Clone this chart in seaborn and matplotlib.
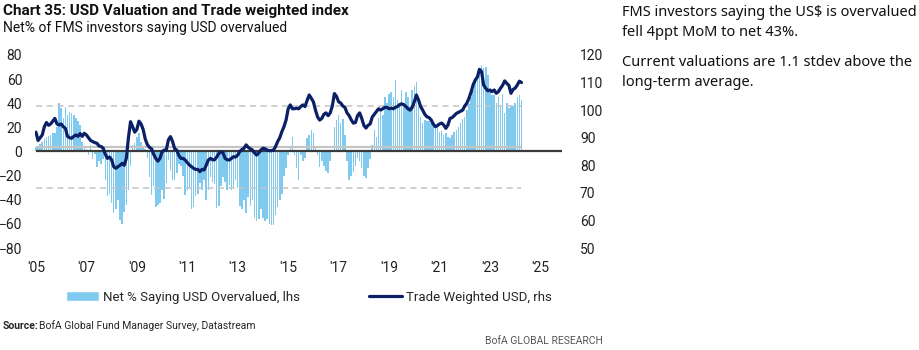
import numpy as np
import pandas as pd
import matplotlib.pyplot as plt
import seaborn as sns
from matplotlib.patches import Patch
from matplotlib.lines import Line2D

sns.set_style('white')
plt.rcParams['font.family'] = ['Roboto', 'DejaVu Sans']

# monthly data, Jan 2005 .. Apr 2024
start_year = 2005

net_overvalued = [
    4, 3, 6, 8, 10, 12, 13, 14, 15, 15, 20, 40,            # 2005
    36, 28, 37, 30, 33, 32, 30, 28, 25, 22, 8, 3,          # 2006
    2, -3, 5, -6, -2, -13, -8, -10, -6, -24, -37, -35,     # 2007
    -43, -51, -48, -40, -57, -60, -50, -44, -32, -12, 5, 7,  # 2008
    12, 15, 8, 4, 2, -5, -21, -36, -29, -46, -44, -43,     # 2009
    -32, -39, -26, -7, -15, -24, -24, -18, -10, -12, -20, -36,  # 2010
    -32, -30, -48, -46, -37, -35, -26, -32, -24, -40, -32, -21,  # 2011
    -25, -27, -47, -45, -29, -21, -25, -32, -28, -32, -30, -24,  # 2012
    -30, -45, -48, -40, -51, -38, -45, -40, -55, -58, -56, -48,  # 2013
    -55, -58, -56, -60, -61, -61, -53, -46, -40, -35, -20, -14,  # 2014
    -3, 4, 12, -3, -14, -24, -3, -8, -5, 11, 14, 18,       # 2015
    15, 4, -3, -13, -8, -12, -16, -18, -8, 0, 20, 26,      # 2016
    30, 24, 27, 14, -8, -24, -20, -17, -12, -5, -8, -14,   # 2017
    -20, -22, -14, -6, 5, 18, 12, 28, 33, 30, 45, 40,      # 2018
    48, 49, 45, 59, 43, 40, 51, 37, 49, 45, 38, 51,        # 2019
    54, 58, 38, 29, 24, 26, 25, 25, 24, 22, 20, 22,        # 2020
    16, 17, 14, 15, 12, 11, 14, 16, 18, 20, 24, 27,        # 2021
    29, 34, 39, 45, 51, 58, 62, 65, 72, 69, 70, 63,        # 2022
    49, 47, 47, 40, 45, 38, 48, 32, 40, 36, 38, 38,        # 2023
    40, 45, 47, 43,                                        # 2024
]

trade_weighted_usd = [
    92, 89, 90, 91, 94, 95.5, 94.5, 95, 96, 97, 95, 94.6,
    95, 94, 93.4, 90.5, 90, 89.8, 90.5, 91, 90.5, 91.5, 90.5, 91.6,
    91, 90, 89, 88.6, 88.2, 88, 87, 86.8, 86.2, 84, 82.5, 83,
    82, 79.5, 78.9, 79.5, 80, 80.7, 80, 82.5, 90, 95.8, 94, 92,
    93, 96, 95, 93, 89.5, 87.5, 86.5, 86, 84, 82.5, 81.5, 82.5,
    84.9, 85.5, 85.5, 89.2, 90.4, 88.6, 86, 85.5, 83.5, 82.5, 82.5, 81.9,
    81, 80.1, 79.5, 78.9, 78.5, 78.5, 77.7, 78.5, 78.3, 80, 81.9, 82.5,
    82, 82, 83, 84.3, 84.9, 84.5, 82.5, 82, 81.9, 82.5, 83.1, 83,
    83.7, 85, 85.7, 86.2, 87.4, 86.5, 86, 85.5, 84.5, 83.7, 84.5, 85.5,
    86.2, 86, 85.5, 85.3, 85.3, 85.5, 86.8, 88.6, 90, 92.2, 94, 96.4,
    100.5, 101.9, 100.5, 100.5, 100.7, 100.5, 101.3, 101.9, 101.3, 103.5, 105.5, 104.3,
    103, 100, 97.5, 96.4, 97, 98.5, 99, 98, 99, 101.5, 106, 105,
    103, 102.6, 101.5, 101, 99, 98, 96.5, 95.3, 95.5, 98, 99, 97,
    94.5, 93.5, 94.5, 95, 97.5, 98.5, 99.5, 100.5, 100, 100.5, 101, 101,
    100.5, 100.7, 100.5, 101, 101.3, 102, 102.3, 102, 101.3, 100.5, 100, 101,
    103, 105.5, 103.7, 101.3, 100, 98.5, 97.6, 97.3, 96.5, 95, 94, 94.4,
    95, 95.3, 94.6, 93.4, 94.6, 97, 97.3, 98, 98.8, 99.2, 99.6, 100,
    101.5, 102.5, 104.3, 106.5, 109.2, 110.9, 112, 114.8, 114, 109.1, 107.9, 107,
    107.3, 106.7, 107.3, 106.1, 106.7, 107.9, 109, 110.6, 109.7, 109, 106.1, 107.5,
    108, 109.1, 110.5, 110,
]

mean_level = 3.5
band_levels = [38, -30]

year_ticks = list(range(2005, 2026, 2))
year_labels = ["'05", "'07", "'09", "'11", "'13", "'15", "'17", "'19", "'21", "'23", "'25"]

bar_color = '#7fcaee'
line_color = '#0b1f66'

df = pd.DataFrame({
    'date': start_year + np.arange(len(net_overvalued)) / 12,
    'net': net_overvalued,
    'twi': trade_weighted_usd,
})
last_date = df['date'].max()

fig = plt.figure(figsize=(9.2, 3.5), dpi=100)
ax = fig.add_axes([0.0377, 0.2914, 0.573, 0.5515])

sns.barplot(data=df, x='date', y='net', native_scale=True, width=0.72,
            color=bar_color, saturation=1, errorbar=None, edgecolor='none',
            linewidth=0, ax=ax, zorder=1)

# zero / mean / +-1 stdev lines
ax.hlines(mean_level, start_year, last_date, color='#c4c4c4', lw=1.6, zorder=3)
ax.hlines(band_levels, start_year, last_date, color='#c4c4c4', lw=1.1,
          linestyles=(0, (4, 3)), zorder=3)
ax.hlines(0, start_year, 2025.85, color='#3a3a3a', lw=1.6, zorder=3)

ax2 = ax.twinx()
sns.lineplot(data=df, x='date', y='twi', color=line_color, lw=2.3, ax=ax2)

ax.set_xlim(2004.95, 2025.85)
ax.set_ylim(-80, 80)
ax2.set_ylim(50, 120)
ax.set_yticks(range(-80, 81, 20))
ax2.set_yticks(range(50, 121, 10))
ax.set_xticks(year_ticks)
ax.set_xticklabels(year_labels)

for a in (ax, ax2):
    a.set_xlabel('')
    a.set_ylabel('')
    for s in a.spines.values():
        s.set_visible(False)
ax.tick_params(axis='both', length=0, labelsize=10, colors='#222222')
ax.tick_params(axis='x', pad=9)
ax.tick_params(axis='y', pad=9)
ax2.tick_params(axis='y', length=0, labelsize=10, colors='#222222', pad=13)

handles = [Patch(facecolor=bar_color, label='Net % Saying USD Overvalued, lhs'),
           Line2D([0], [0], color=line_color, lw=2.3, label='Trade Weighted USD, rhs')]
fig.legend(handles=handles, loc='center', bbox_to_anchor=(0.336, 1 - 297 / 350), ncol=2,
           frameon=False, fontsize=9.5, columnspacing=5.2, handlelength=2.5,
           handletextpad=0.3)

fig.text(0.003, 1 - 11 / 350, 'Chart 35: USD Valuation and Trade weighted index',
         fontsize=11, fontweight='bold', va='center', color='#111111')
fig.text(0.003, 1 - 28 / 350, 'Net% of FMS investors saying USD overvalued',
         fontsize=10, va='center', color='#111111')
fig.text(0.003, 1 - 326 / 350, 'Source:', fontsize=7.5, fontweight='bold', va='center')
fig.text(0.0425, 1 - 326 / 350, 'BofA Global Fund Manager Survey, Datastream',
         fontsize=7.5, va='center')
fig.text(603 / 920, 1 - 341 / 350, 'BofA GLOBAL RESEARCH', fontsize=7.5, ha='right',
         va='center', color='#555555')

side_font = ['Noto Sans', 'DejaVu Sans']
fig.text(622 / 920, 1 - 12 / 350, 'FMS investors saying the US$ is overvalued',
         fontsize=10.5, family=side_font, va='center', color='#111111')
fig.text(622 / 920, 1 - 32 / 350, 'fell 4ppt MoM to net 43%.',
         fontsize=10.5, family=side_font, va='center', color='#111111')
fig.text(622 / 920, 1 - 63 / 350, 'Current valuations are 1.1 stdev above the',
         fontsize=10.5, family=side_font, va='center', color='#111111')
fig.text(622 / 920, 1 - 83 / 350, 'long-term average.',
         fontsize=10.5, family=side_font, va='center', color='#111111')

fig.savefig('out.png', dpi=100)
